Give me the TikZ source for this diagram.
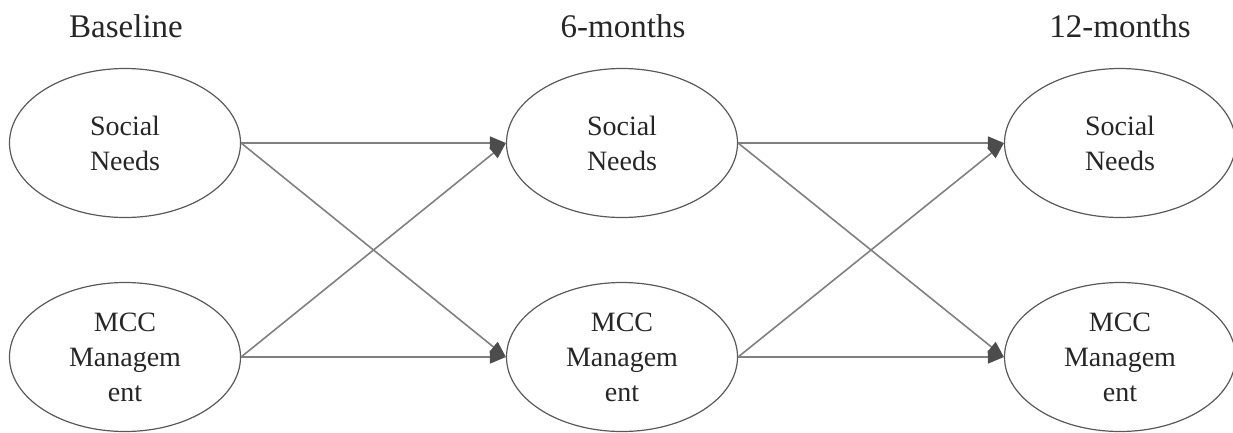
\documentclass[tikz,border=0pt]{standalone}
\usepackage{fontspec}
\setmainfont{Liberation Serif}
\usetikzlibrary{shapes.geometric,arrows.meta}
\begin{document}
\begin{tikzpicture}[x=1pt,y=-1pt]
    \tikzstyle{wave}=[draw=black!65,line width=1.2pt,shape=ellipse,minimum width=231pt,minimum height=149pt,inner sep=0pt,align=center,font=\fontsize{28}{35}\selectfont,text=black!85,execute at begin node={\rule{0pt}{27pt}}];
    \tikzstyle{time}=[font=\fontsize{33}{38}\selectfont,text=black!85,anchor=base];
    \tikzstyle{path}=[draw=black!50,line width=1.6pt,-{Triangle[length=16pt,width=13pt,color=black!70]}];
    \useasboundingbox (0,0) rectangle (1233,432);
    \node[time] at (126, 37)  (t0) {Baseline};
    \node[time] at (623, 37)  (t1) {6-months};
    \node[time] at (1120, 37) (t2) {12-months};
    \node[wave] at (125, 143)  (s0) {Social\\Needs};
    \node[wave] at (125, 357)  (m0) {MCC\\Managem\\ent};
    \node[wave] at (622, 143)  (s1) {Social\\Needs};
    \node[wave] at (622, 357)  (m1) {MCC\\Managem\\ent};
    \node[wave] at (1120, 143) (s2) {Social\\Needs};
    \node[wave] at (1120, 357) (m2) {MCC\\Managem\\ent};

    \draw[path] (s0.east) -- (s1.west);
    \draw[path] (s0.east) -- (m1.west);
    \draw[path] (m0.east) -- (s1.west);
    \draw[path] (m0.east) -- (m1.west);
    \draw[path] (s1.east) -- (s2.west);
    \draw[path] (s1.east) -- (m2.west);
    \draw[path] (m1.east) -- (s2.west);
    \draw[path] (m1.east) -- (m2.west);
\end{tikzpicture}
\end{document}
